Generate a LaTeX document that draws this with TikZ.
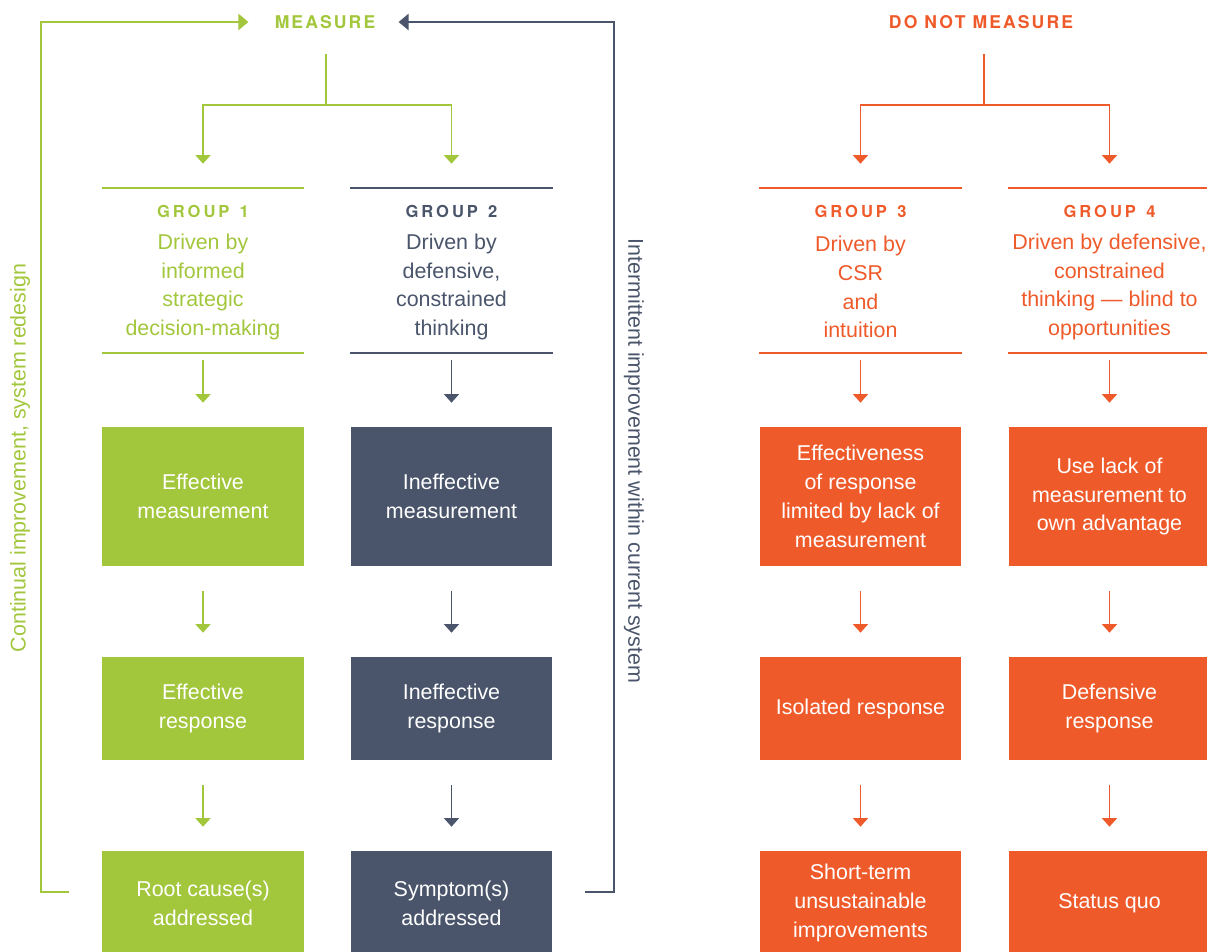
\documentclass[tikz,border=0pt]{standalone}
\usepackage{fontspec}
\setmainfont{Liberation Sans}
\newfontfamily\capsfont{TeX Gyre Heros}[LetterSpace=12]
\newfontfamily\grpfont{TeX Gyre Heros}[LetterSpace=18]
\usepackage{tikz}
\usetikzlibrary{arrows.meta, positioning}
\definecolor{mgreen}{HTML}{A2C63C}
\definecolor{mslate}{HTML}{4A556B}
\definecolor{morange}{HTML}{EF5A2A}
\tikzset{
    bodyfont/.style={font=\fontsize{12.2}{16.4}\selectfont},
    title/.style={text=#1, inner sep=0pt, font=\capsfont\bfseries\fontsize{10}{12}\selectfont},
    header/.style={rectangle, minimum width=4.04cm, minimum height=3.3cm, inner sep=0pt},
    grouptitle/.style={text=#1, inner sep=0pt, font=\grpfont\bfseries\fontsize{9.4}{11}\selectfont},
    groupdesc/.style={text=#1, align=center, inner sep=0pt, bodyfont},
    box/.style={rectangle, fill=#1, text=white, minimum width=4.04cm, align=center, inner sep=0pt, bodyfont},
    rule/.style={draw=#1, line width=1.1pt},
    flow/.style={draw=#1, line width=0.8pt, -{Triangle[length=0.17cm, width=0.3cm]}},
    gap/.style={shorten <=0.49cm, shorten >=0.48cm},
    loopline/.style={draw=#1, line width=1.5pt, -{Triangle[length=0.2cm, width=0.32cm]}}
}

\begin{document}
\begin{tikzpicture}[x=0.02cm, y=-0.02cm]
    \useasboundingbox (0,0) rectangle (1207,951);

    % titles
    \node[title=mgreen] (ms) at (325,22) {MEASURE};
    \node[title=morange] (dnm) at (981,22) {DO NOT MEASURE};

    % side captions
    \node[rotate=90, text=mgreen, bodyfont] (lcap) at (20,458) {Continual improvement, system redesign};
    \node[rotate=-90, text=mslate, bodyfont] (rcap) at (634,461) {Intermittent improvement within current system};

    % group headers
    \node[header] (h1) at (203,270.5) {};
    \node[header] (h2) at (451.5,270.5) {};
    \node[header] (h3) at (860.5,270.5) {};
    \node[header] (h4) at (1109.5,270.5) {};
    \draw[rule=mgreen] (h1.north west) -- (h1.north east) (h1.south west) -- (h1.south east);
    \draw[rule=mslate] (h2.north west) -- (h2.north east) (h2.south west) -- (h2.south east);
    \draw[rule=morange] (h3.north west) -- (h3.north east) (h3.south west) -- (h3.south east);
    \draw[rule=morange] (h4.north west) -- (h4.north east) (h4.south west) -- (h4.south east);

    \node[grouptitle=mgreen] (g1) at (203,211) {GROUP\, 1};
    \node[grouptitle=mslate] (g2) at (451.5,211) {GROUP\, 2};
    \node[grouptitle=morange] (g3) at (860.5,211) {GROUP\, 3};
    \node[grouptitle=morange] (g4) at (1109.5,211) {GROUP\, 4};

    \node[groupdesc=mgreen] (d1) at (203,287) {Driven by\\informed\\strategic\\decision-making};
    \node[groupdesc=mslate] (d2) at (451.5,287) {Driven by\\defensive,\\constrained\\thinking};
    \node[groupdesc=morange] (d3) at (860.5,287) {Driven by\\CSR\\and\\intuition};
    \node[groupdesc=morange] (d4) at (1109.5,287) {Driven by defensive,\\constrained\\thinking --- blind to\\opportunities};

    % boxes
    \node[box=mgreen, minimum height=2.78cm] (b11) at (203,496.5) {Effective\\measurement};
    \node[box=mgreen, minimum height=2.06cm] (b12) at (203,708.5) {Effective\\response};
    \node[box=mgreen, minimum height=2.08cm] (b13) at (203,903) {Root cause(s)\\addressed};

    \node[box=mslate, minimum height=2.78cm] (b21) at (451.5,496.5) {Ineffective\\measurement};
    \node[box=mslate, minimum height=2.06cm] (b22) at (451.5,708.5) {Ineffective\\response};
    \node[box=mslate, minimum height=2.08cm] (b23) at (451.5,903) {Symptom(s)\\addressed};

    \node[box=morange, minimum height=2.78cm] (b31) at (860.5,496.5) {Effectiveness\\of response\\limited by lack of\\measurement};
    \node[box=morange, minimum height=2.06cm] (b32) at (860.5,708.5) {Isolated response};
    \node[box=morange, minimum height=2.08cm] (b33) at (860.5,903) {Short-term\\unsustainable\\improvements};

    \node[box=morange, minimum height=2.78cm] (b41) at (1109.5,496.5) {Use lack of\\measurement to\\own advantage};
    \node[box=morange, minimum height=2.06cm] (b42) at (1109.5,708.5) {Defensive\\response};
    \node[box=morange, minimum height=2.08cm] (b43) at (1109.5,903) {Status quo};

    % forks from the titles
    \coordinate (mstem) at (326,54);
    \coordinate (mfork) at (326,105);
    \coordinate (dstem) at (984,54);
    \coordinate (dfork) at (984,105);
    \draw[draw=mgreen, line width=0.9pt] (mstem) -- (mfork);
    \draw[flow=mgreen, shorten >=0.48cm] (mfork) -| (h1.north);
    \draw[flow=mgreen, shorten >=0.48cm] (mfork) -| (h2.north);
    \draw[draw=morange, line width=0.9pt] (dstem) -- (dfork);
    \draw[flow=morange, shorten >=0.48cm] (dfork) -| (h3.north);
    \draw[flow=morange, shorten >=0.48cm] (dfork) -| (h4.north);

    % columns
    \draw[flow=mgreen, gap, shorten <=0.14cm] (h1) -- (b11);
    \draw[flow=mgreen, gap] (b11) -- (b12);
    \draw[flow=mgreen, gap] (b12) -- (b13);
    \draw[flow=mslate, gap, shorten <=0.14cm] (h2) -- (b21);
    \draw[flow=mslate, gap] (b21) -- (b22);
    \draw[flow=mslate, gap] (b22) -- (b23);
    \draw[flow=morange, gap, shorten <=0.14cm] (h3) -- (b31);
    \draw[flow=morange, gap] (b31) -- (b32);
    \draw[flow=morange, gap] (b32) -- (b33);
    \draw[flow=morange, gap, shorten <=0.14cm] (h4) -- (b41);
    \draw[flow=morange, gap] (b41) -- (b42);
    \draw[flow=morange, gap] (b42) -- (b43);

    % feedback loops
    \coordinate (lfoot) at (69,892);
    \coordinate (rfoot) at (585,892);
    \draw[loopline=mgreen, shorten >=0.52cm] (lfoot) -- (41,892) |- (ms.west);
    \draw[loopline=mslate, shorten >=0.46cm] (rfoot) -- (614,892) |- (ms.east);
\end{tikzpicture}
\end{document}
